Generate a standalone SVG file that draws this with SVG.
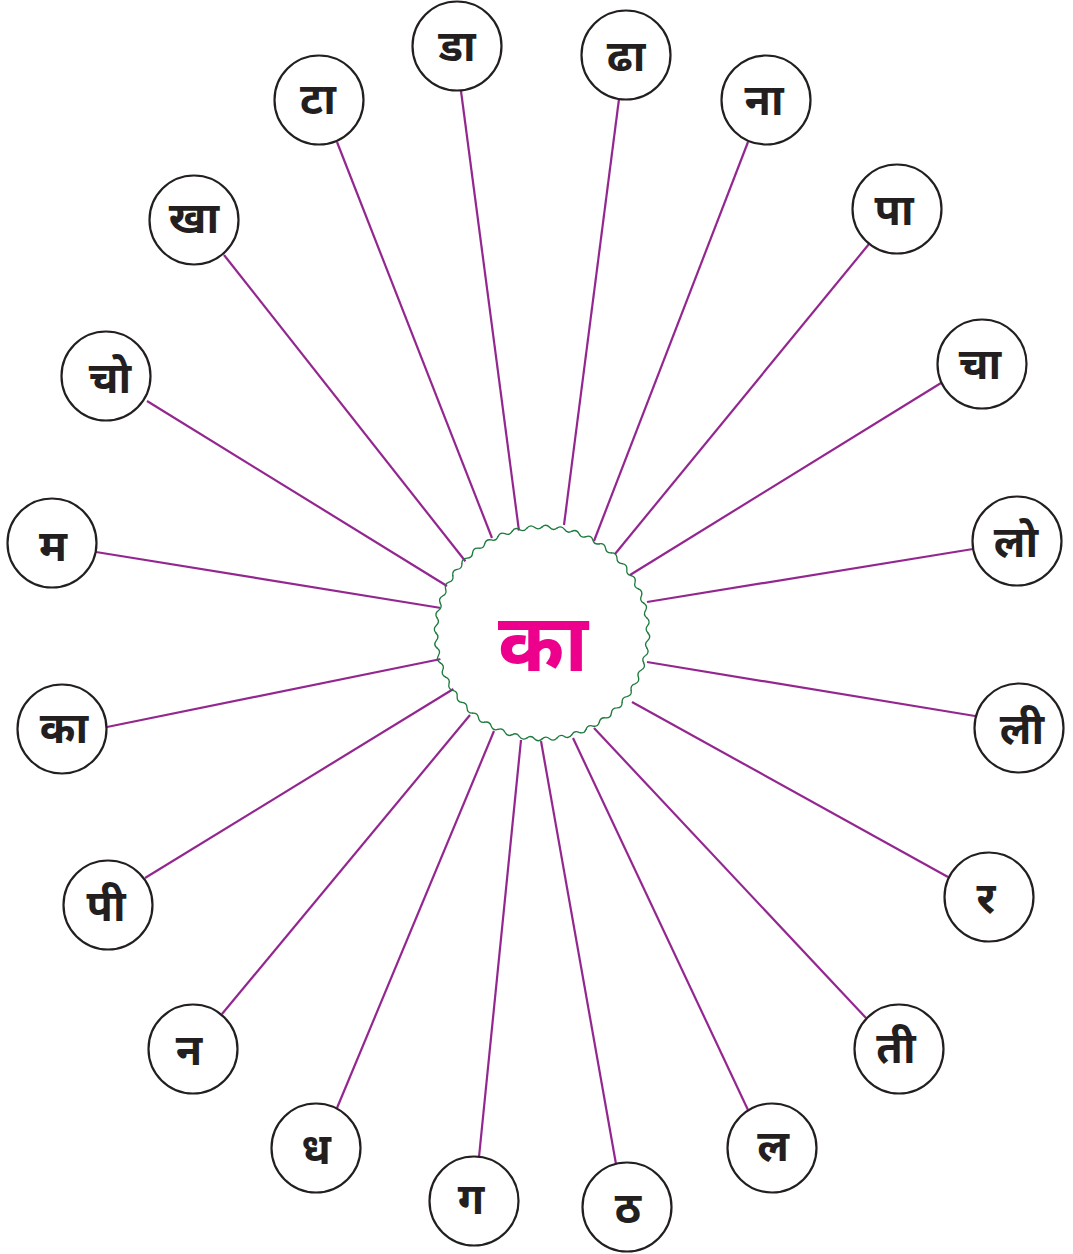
<svg xmlns="http://www.w3.org/2000/svg" xmlns:xlink="http://www.w3.org/1999/xlink" width="1073" height="1254" viewBox="0 0 1073 1254">
<style>
.c{fill:#fff;stroke:#231f20;stroke-width:2.2}
.t{font-family:"Noto Sans Devanagari","Noto Sans","Lohit Devanagari",sans-serif;font-weight:bold;font-size:43px;fill:#231f20;text-anchor:middle}
.m{font-family:"Noto Sans Devanagari","Noto Sans","Lohit Devanagari",sans-serif;font-weight:bold;font-size:80px;fill:#ec008c;text-anchor:middle}
#edges line{stroke:#93278f;stroke-width:2.2}
.w{fill:none;stroke:#1b7a3c;stroke-width:1.3;stroke-linecap:round}
</style>
<defs>
<path id="wv" class="w" d="M106,0 Q109.53,3.91 105.73,7.56 Q101.81,10.95 104.92,15.09"/>
</defs>
<rect width="1073" height="1254" fill="#fff"/>
<g id="edges">
<line x1="461" y1="91" x2="519" y2="531"/>
<line x1="619" y1="99" x2="564" y2="525"/>
<line x1="337" y1="142" x2="492" y2="538"/>
<line x1="748" y1="142" x2="594" y2="541"/>
<line x1="224" y1="255" x2="466" y2="562"/>
<line x1="869" y1="244" x2="615" y2="554"/>
<line x1="147" y1="401" x2="447" y2="586"/>
<line x1="941" y1="383" x2="630" y2="575"/>
<line x1="96" y1="552" x2="441" y2="608"/>
<line x1="973" y1="549" x2="647" y2="602"/>
<line x1="107" y1="727" x2="441" y2="659"/>
<line x1="975" y1="716" x2="647" y2="662"/>
<line x1="145" y1="878" x2="455" y2="688"/>
<line x1="948" y1="877" x2="632" y2="702"/>
<line x1="222" y1="1014" x2="470" y2="715"/>
<line x1="866" y1="1018" x2="594" y2="728"/>
<line x1="337" y1="1108" x2="494" y2="731"/>
<line x1="748" y1="1110" x2="573" y2="738"/>
<line x1="479" y1="1157" x2="521" y2="740"/>
<line x1="616" y1="1164" x2="541" y2="741"/>
</g>
<g id="center">
<circle cx="542" cy="633" r="105" fill="#fff"/>
<g transform="translate(542,633)">
<use xlink:href="#wv" transform="rotate(0)"/><use xlink:href="#wv" transform="rotate(8.182)"/><use xlink:href="#wv" transform="rotate(16.364)"/><use xlink:href="#wv" transform="rotate(24.545)"/><use xlink:href="#wv" transform="rotate(32.727)"/><use xlink:href="#wv" transform="rotate(40.909)"/><use xlink:href="#wv" transform="rotate(49.091)"/><use xlink:href="#wv" transform="rotate(57.273)"/><use xlink:href="#wv" transform="rotate(65.455)"/><use xlink:href="#wv" transform="rotate(73.636)"/><use xlink:href="#wv" transform="rotate(81.818)"/>
<use xlink:href="#wv" transform="rotate(90)"/><use xlink:href="#wv" transform="rotate(98.182)"/><use xlink:href="#wv" transform="rotate(106.364)"/><use xlink:href="#wv" transform="rotate(114.545)"/><use xlink:href="#wv" transform="rotate(122.727)"/><use xlink:href="#wv" transform="rotate(130.909)"/><use xlink:href="#wv" transform="rotate(139.091)"/><use xlink:href="#wv" transform="rotate(147.273)"/><use xlink:href="#wv" transform="rotate(155.455)"/><use xlink:href="#wv" transform="rotate(163.636)"/><use xlink:href="#wv" transform="rotate(171.818)"/>
<use xlink:href="#wv" transform="rotate(180)"/><use xlink:href="#wv" transform="rotate(188.182)"/><use xlink:href="#wv" transform="rotate(196.364)"/><use xlink:href="#wv" transform="rotate(204.545)"/><use xlink:href="#wv" transform="rotate(212.727)"/><use xlink:href="#wv" transform="rotate(220.909)"/><use xlink:href="#wv" transform="rotate(229.091)"/><use xlink:href="#wv" transform="rotate(237.273)"/><use xlink:href="#wv" transform="rotate(245.455)"/><use xlink:href="#wv" transform="rotate(253.636)"/><use xlink:href="#wv" transform="rotate(261.818)"/>
<use xlink:href="#wv" transform="rotate(270)"/><use xlink:href="#wv" transform="rotate(278.182)"/><use xlink:href="#wv" transform="rotate(286.364)"/><use xlink:href="#wv" transform="rotate(294.545)"/><use xlink:href="#wv" transform="rotate(302.727)"/><use xlink:href="#wv" transform="rotate(310.909)"/><use xlink:href="#wv" transform="rotate(319.091)"/><use xlink:href="#wv" transform="rotate(327.273)"/><use xlink:href="#wv" transform="rotate(335.455)"/><use xlink:href="#wv" transform="rotate(343.636)"/><use xlink:href="#wv" transform="rotate(351.818)"/>
</g>
<text class="m" x="543" y="671">का</text>
</g>
<g id="n1"><circle class="c" cx="457" cy="46" r="44.5"/><text class="t" x="457" y="61">डा</text></g>
<g id="n2"><circle class="c" cx="626" cy="55" r="44.5"/><text class="t" x="626" y="71">ढा</text></g>
<g id="n3"><circle class="c" cx="319" cy="100" r="44.5"/><text class="t" x="318" y="114">टा</text></g>
<g id="n4"><circle class="c" cx="766" cy="100" r="44.5"/><text class="t" x="764" y="115">ना</text></g>
<g id="n5"><circle class="c" cx="194" cy="220" r="44.5"/><text class="t" x="194" y="233">खा</text></g>
<g id="n6"><circle class="c" cx="897" cy="209" r="44.5"/><text class="t" x="894" y="225">पा</text></g>
<g id="n7"><circle class="c" cx="106" cy="376" r="44.5"/><text class="t" x="110" y="393">चो</text></g>
<g id="n8"><circle class="c" cx="982" cy="364" r="44.5"/><text class="t" x="980" y="379">चा</text></g>
<g id="n9"><circle class="c" cx="52" cy="543" r="44.5"/><text class="t" x="53" y="561">म</text></g>
<g id="n10"><circle class="c" cx="1017" cy="541" r="44.5"/><text class="t" x="1016" y="557">लो</text></g>
<g id="n11"><circle class="c" cx="62" cy="729" r="44.5"/><text class="t" x="64" y="743">का</text></g>
<g id="n12"><circle class="c" cx="1019" cy="728" r="44.5"/><text class="t" x="1022" y="744">ली</text></g>
<g id="n13"><circle class="c" cx="108" cy="905" r="44.5"/><text class="t" x="106" y="921">पी</text></g>
<g id="n14"><circle class="c" cx="989" cy="897" r="44.5"/><text class="t" x="986" y="913">र</text></g>
<g id="n15"><circle class="c" cx="193" cy="1049" r="44.5"/><text class="t" x="189" y="1065">न</text></g>
<g id="n16"><circle class="c" cx="899" cy="1049" r="44.5"/><text class="t" x="896" y="1063">ती</text></g>
<g id="n17"><circle class="c" cx="316" cy="1148" r="44.5"/><text class="t" x="316" y="1164">ध</text></g>
<g id="n18"><circle class="c" cx="772" cy="1148" r="44.5"/><text class="t" x="773" y="1161">ल</text></g>
<g id="n19"><circle class="c" cx="474" cy="1201" r="44.5"/><text class="t" x="471" y="1214">ग</text></g>
<g id="n20"><circle class="c" cx="627" cy="1207" r="44.5"/><text class="t" x="628" y="1223">ठ</text></g>
</svg>
